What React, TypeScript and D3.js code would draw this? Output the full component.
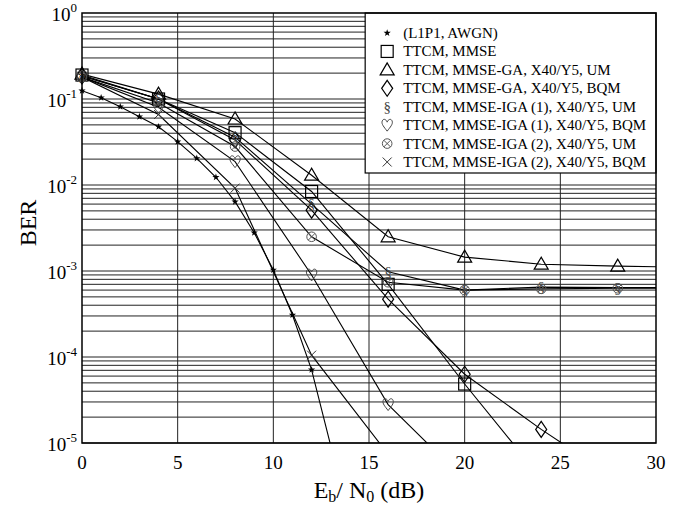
import * as d3 from "d3";

// Eb/N0 grids (dB)
const EBN0_TTCM = [0, 4, 8, 12, 16, 20, 24, 28, 32];
const EBN0_AWGN = [0, 1, 2, 3, 4, 5, 6, 7, 8, 9, 10, 11, 12, 13];

// BER values
const BER_AWGN = [0.125, 0.1035, 0.0813, 0.0623, 0.0476, 0.0319, 0.0204, 0.0123, 0.0064, 0.00279, 0.00103, 3.08e-4, 7.1e-5, 9.3e-6];
const BER_MMSE = [0.19, 0.1, 0.0406, 0.0084, 7.0e-4, 4.85e-5, 3.9e-6];
const BER_GA_UM = [0.195, 0.114, 0.0585, 0.013, 0.0025, 0.00145, 0.0012, 0.00114, 0.0011];
const BER_GA_BQM = [0.185, 0.1, 0.0334, 0.0051, 4.7e-4, 6.3e-5, 1.44e-5, 3.7e-6];
const BER_IGA1_UM = [0.185, 0.1, 0.036, 0.006, 9.8e-4, 6.0e-4, 6.5e-4, 6.4e-4, 6.4e-4];
const BER_IGA1_BQM = [0.18, 0.08, 0.0187, 9.0e-4, 2.8e-5, 3.7e-6];
const BER_IGA2_UM = [0.18, 0.09, 0.028, 0.0025, 7.4e-4, 6.0e-4, 6.2e-4, 6.3e-4, 6.3e-4];
const BER_IGA2_BQM = [0.18, 0.066, 0.0092, 1.05e-4, 7.4e-6];

const LABELS = [
  "(L1P1, AWGN)",
  "TTCM, MMSE",
  "TTCM, MMSE-GA, X40/Y5, UM",
  "TTCM, MMSE-GA, X40/Y5, BQM",
  "TTCM, MMSE-IGA (1), X40/Y5, UM",
  "TTCM, MMSE-IGA (1), X40/Y5, BQM",
  "TTCM, MMSE-IGA (2), X40/Y5, UM",
  "TTCM, MMSE-IGA (2), X40/Y5, BQM",
];
const MARKERS = ["star", "square", "triangle", "diamond", "section", "heart", "otimes", "times"];

const X_TICKS = [0, 5, 10, 15, 20, 25, 30];
const Y_DECADES = [0, -1, -2, -3, -4, -5];

const SERIES = [
  { x: EBN0_AWGN, y: BER_AWGN },
  { x: EBN0_TTCM, y: BER_MMSE },
  { x: EBN0_TTCM, y: BER_GA_UM },
  { x: EBN0_TTCM, y: BER_GA_BQM },
  { x: EBN0_TTCM, y: BER_IGA1_UM },
  { x: EBN0_TTCM, y: BER_IGA1_BQM },
  { x: EBN0_TTCM, y: BER_IGA2_UM },
  { x: EBN0_TTCM, y: BER_IGA2_BQM },
].map((s, i) => ({
  label: LABELS[i],
  marker: MARKERS[i],
  pts: s.y.map((v, j) => ({ x: s.x[j], y: v })),
}));

const W = 695;
const H = 507;
const margin = { top: 13, right: 39, bottom: 64, left: 82 };
const innerW = W - margin.left - margin.right;
const innerH = H - margin.top - margin.bottom;
const FONT = "'Liberation Serif', 'Times New Roman', serif";

function Marker({ type, cx, cy }: { type: string; cx: number; cy: number }) {
  switch (type) {
    case "star": {
      const p = d3.range(10).map((k) => {
        const r = k % 2 === 0 ? 3.8 : 1.5;
        const a = (k * Math.PI) / 5 - Math.PI / 2;
        return [cx + r * Math.cos(a), cy + r * Math.sin(a)];
      });
      return <polygon points={p.map((q) => q.join(",")).join(" ")} fill="#000" />;
    }
    case "square":
      return <rect x={cx - 6} y={cy - 6} width={12} height={12} fill="none" stroke="#000" strokeWidth={1.2} />;
    case "triangle":
      return (
        <polygon
          points={`${cx},${cy - 7} ${cx - 7},${cy + 5} ${cx + 7},${cy + 5}`}
          fill="none" stroke="#000" strokeWidth={1.2}
        />
      );
    case "diamond":
      return (
        <polygon
          points={`${cx},${cy - 8} ${cx + 5.5},${cy} ${cx},${cy + 8} ${cx - 5.5},${cy}`}
          fill="none" stroke="#000" strokeWidth={1.2}
        />
      );
    case "section":
      return (
        <text x={cx} y={cy + 5} textAnchor="middle" fontSize={15} fontFamily={FONT} fill="#444">§</text>
      );
    case "heart":
      return (
        <path
          d={`M${cx},${cy + 6} C${cx - 3},${cy + 2} ${cx - 6},${cy - 1} ${cx - 5},${cy - 4}
             C${cx - 4},${cy - 7} ${cx - 1},${cy - 6} ${cx},${cy - 3}
             C${cx + 1},${cy - 6} ${cx + 4},${cy - 7} ${cx + 5},${cy - 4}
             C${cx + 6},${cy - 1} ${cx + 3},${cy + 2} ${cx},${cy + 6} Z`}
          fill="none" stroke="#444" strokeWidth={1}
        />
      );
    case "otimes": {
      const r = 4.8;
      const d = r * Math.SQRT1_2;
      return (
        <g stroke="#555" strokeWidth={1} fill="none">
          <circle cx={cx} cy={cy} r={r} />
          <line x1={cx - d} y1={cy - d} x2={cx + d} y2={cy + d} />
          <line x1={cx - d} y1={cy + d} x2={cx + d} y2={cy - d} />
        </g>
      );
    }
    case "times":
      return (
        <g stroke="#333" strokeWidth={1}>
          <line x1={cx - 4.5} y1={cy - 4.5} x2={cx + 4.5} y2={cy + 4.5} />
          <line x1={cx - 4.5} y1={cy + 4.5} x2={cx + 4.5} y2={cy - 4.5} />
        </g>
      );
    default:
      return null;
  }
}

export default function App() {
  const x = d3.scaleLinear().domain([0, 30]).range([0, innerW]);
  const y = d3.scaleLog().domain([1e-5, 1]).range([innerH, 0]);

  const line = d3
    .line<{ x: number; y: number }>()
    .x((d) => x(d.x))
    .y((d) => y(d.y));

  // log grid: every 1..9 x 10^k
  const gridY: number[] = [];
  for (let e = -5; e < 0; e++) {
    for (let m = 1; m <= 9; m++) gridY.push(m * Math.pow(10, e));
  }

  const legend = { x: x(14.8), y: 0, w: innerW - x(14.8), h: 160, row: 18.43 };

  return (
    <svg width={W} height={H} style={{ position: "absolute", left: 0, top: 0, background: "#fff" }} fontFamily={FONT}>
      <defs>
        <clipPath id="plot-clip">
          <rect x={0} y={0} width={innerW} height={innerH} />
        </clipPath>
      </defs>
      <rect width={W} height={H} fill="#fff" />
      <g transform={`translate(${margin.left},${margin.top})`}>
        {/* grid */}
        {gridY.map((v, i) => (
          <line key={"gy" + i} x1={0} x2={innerW} y1={y(v)} y2={y(v)} stroke="#222" strokeWidth={1} />
        ))}
        {X_TICKS.slice(1, -1).map((t) => (
          <line key={"gx" + t} x1={x(t)} x2={x(t)} y1={0} y2={innerH} stroke="#222" strokeWidth={1} />
        ))}

        {/* curves */}
        <g clipPath="url(#plot-clip)">
          {SERIES.map((s, i) => (
            <path key={"l" + i} d={line(s.pts) || ""} fill="none" stroke="#000" strokeWidth={1.1} />
          ))}
        </g>
        {SERIES.map((s, i) =>
          s.pts
            .filter((p) => p.x <= 30 && p.y >= 1e-5)
            .map((p, j) => <Marker key={`m${i}-${j}`} type={s.marker} cx={x(p.x)} cy={y(p.y)} />)
        )}

        {/* legend */}
        <rect x={legend.x} y={legend.y} width={legend.w} height={legend.h} fill="#fff" stroke="#000" strokeWidth={1.2} />
        {SERIES.map((s, i) => {
          const cy = legend.y + 20 + i * legend.row;
          return (
            <g key={"lg" + i}>
              <Marker type={s.marker} cx={legend.x + 22} cy={cy} />
              <text x={legend.x + 38} y={cy + 5} fontSize={15} fill="#000">{s.label}</text>
            </g>
          );
        })}

        {/* frame */}
        <rect x={0} y={0} width={innerW} height={innerH} fill="none" stroke="#000" strokeWidth={1.5} />

        {/* x tick labels */}
        {X_TICKS.map((t) => (
          <text key={"xt" + t} x={x(t)} y={innerH + 26} textAnchor="middle" fontSize={19}>{t}</text>
        ))}
        {/* y tick labels */}
        {Y_DECADES.map((e) => (
          <text key={"yt" + e} x={-5} y={y(Math.pow(10, e)) + 8} textAnchor="end" fontSize={19}>
            10<tspan dy={-9} fontSize={13}>{e}</tspan>
          </text>
        ))}

        {/* axis titles */}
        <text x={innerW / 2} y={innerH + 55} textAnchor="middle" fontSize={24}>
          E<tspan dy={4} fontSize={16}>b</tspan>
          <tspan dy={-4}>/ N</tspan>
          <tspan dy={4} fontSize={16}>0</tspan>
          <tspan dy={-4}> (dB)</tspan>
        </text>
        <text transform={`translate(${-46},${innerH / 2 - 5}) rotate(-90)`} textAnchor="middle" fontSize={24}>BER</text>
      </g>
    </svg>
  );
}
